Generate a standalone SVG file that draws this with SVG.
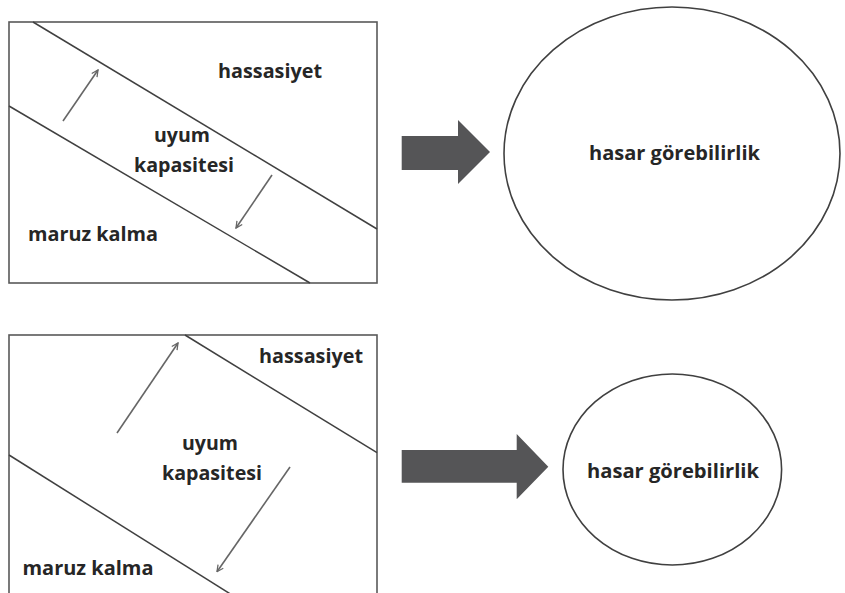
<svg xmlns="http://www.w3.org/2000/svg" width="845" height="593" viewBox="0 0 845 593">
<defs>
<style>
.frame{fill:#fff;stroke:#595959;stroke-width:1.6}
.diag{fill:none;stroke:#404040;stroke-width:1.5}
.small{fill:none;stroke:#666;stroke-width:1.6;marker-end:url(#head)}
.fat{fill:#555557;stroke:none}
.oval{fill:#fff;stroke:#404040;stroke-width:1.6}
text{font-family:"Open Sans","Liberation Sans",sans-serif;font-weight:700;font-size:19px;fill:#262626;text-anchor:middle}
</style>
<marker id="head" viewBox="0 0 10 10" refX="9" refY="5" markerWidth="8" markerHeight="8" orient="auto" markerUnits="userSpaceOnUse">
<path d="M1,1 L9,5 L1,9" fill="none" stroke="#666" stroke-width="1.6"/>
</marker>
</defs>
<rect width="845" height="593" fill="#fff"/>

<g id="panel-top">
<rect class="frame" x="9" y="22" width="368" height="261"/>
<text x="270" y="78" textLength="104" lengthAdjust="spacingAndGlyphs">hassasiyet</text>
<text x="182" y="142" textLength="56" lengthAdjust="spacingAndGlyphs">uyum</text>
<text x="184" y="172" textLength="100" lengthAdjust="spacingAndGlyphs">kapasitesi</text>
<text x="93" y="241" textLength="130" lengthAdjust="spacingAndGlyphs">maruz kalma</text>
</g>

<g id="panel-bottom">
<rect class="frame" x="9" y="335" width="368" height="280"/>
<text x="311" y="363" textLength="104" lengthAdjust="spacingAndGlyphs">hassasiyet</text>
<text x="210" y="450" textLength="56" lengthAdjust="spacingAndGlyphs">uyum</text>
<text x="212" y="480" textLength="100" lengthAdjust="spacingAndGlyphs">kapasitesi</text>
<text x="88" y="575" textLength="131" lengthAdjust="spacingAndGlyphs">maruz kalma</text>
</g>

<g id="vuln-top">
<ellipse class="oval" cx="672" cy="153.5" rx="168" ry="146.5"/>
<text x="674.5" y="160" textLength="171" lengthAdjust="spacingAndGlyphs">hasar görebilirlik</text>
</g>

<g id="vuln-bottom">
<ellipse class="oval" cx="672.3" cy="469.5" rx="109.3" ry="95.5"/>
<text x="673" y="478" textLength="172" lengthAdjust="spacingAndGlyphs">hasar görebilirlik</text>
</g>

<g id="connectors">
<line class="diag" x1="33" y1="22" x2="377" y2="229"/>
<line class="diag" x1="9" y1="106" x2="310" y2="283"/>
<line class="small" x1="63" y1="121" x2="98" y2="70"/>
<line class="small" x1="272" y1="175" x2="236" y2="228"/>
<path class="fat" d="M401.7,136 L458,136 L458,120 L490,152 L458,184 L458,170 L401.7,170 Z"/>

<line class="diag" x1="185" y1="335" x2="377" y2="452.7"/>
<line class="diag" x1="9" y1="455" x2="232" y2="595"/>
<line class="small" x1="117" y1="433" x2="178" y2="343"/>
<line class="small" x1="290" y1="467" x2="217" y2="571.7"/>
<path class="fat" d="M401.7,450 L516.7,450 L516.7,434 L548.3,466.7 L516.7,499.3 L516.7,482.7 L401.7,482.7 Z"/>
</g>
</svg>
